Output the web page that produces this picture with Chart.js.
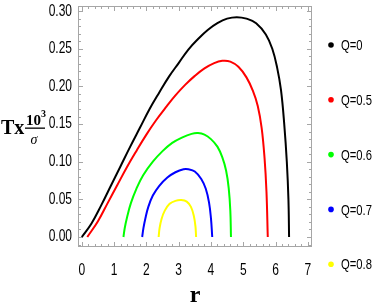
<!DOCTYPE html>
<html>
<head>
<meta charset="utf-8">
<script src="https://cdn.jsdelivr.net/npm/chart.js@4.4.1/dist/chart.umd.min.js"></script>
<style>
  html, body { margin: 0; padding: 0; background: #fff; }
  #wrap { width: 374px; height: 305px; }
</style>
</head>
<body>
<div id="wrap"><canvas id="c" width="374" height="305"></canvas></div>
<script>
const seriesLabels = ['Q=0', 'Q=0.5', 'Q=0.6', 'Q=0.7', 'Q=0.8'];
const seriesColors = ['#000000', '#ff0000', '#00ff00', '#0000ff', '#ffff00'];

// r and T x 10^3/sigma
const rQ0 = [0, 0.3, 0.6, 0.9, 1.2, 1.5, 1.8, 2.1, 2.4, 2.7, 3.0, 3.3, 3.6, 3.9, 4.2, 4.5, 4.8, 5.1, 5.4, 5.7, 5.9, 6.05, 6.17, 6.27, 6.35, 6.4, 6.42];
const tQ0 = [0, 0.018, 0.042, 0.068, 0.094, 0.120, 0.145, 0.170, 0.192, 0.213, 0.231, 0.249, 0.263, 0.275, 0.284, 0.290, 0.292, 0.290, 0.284, 0.269, 0.250, 0.225, 0.195, 0.150, 0.100, 0.050, 0];

const rQ05 = [0.17, 0.5, 0.8, 1.1, 1.4, 1.7, 2.0, 2.3, 2.6, 2.9, 3.2, 3.5, 3.8, 4.1, 4.35, 4.6, 4.85, 5.1, 5.3, 5.45, 5.57, 5.66, 5.72, 5.76];
const tQ05 = [0, 0.021, 0.045, 0.069, 0.093, 0.115, 0.136, 0.155, 0.172, 0.188, 0.202, 0.214, 0.224, 0.231, 0.234, 0.233, 0.226, 0.212, 0.194, 0.174, 0.145, 0.105, 0.060, 0];

const rQ06 = [1.29, 1.33, 1.4, 1.52, 1.69, 1.9, 2.2, 2.5, 2.8, 3.1, 3.4, 3.6, 3.8, 4.0, 4.2, 4.35, 4.47, 4.55, 4.6, 4.62];
const tQ06 = [0, 0.012, 0.026, 0.045, 0.064, 0.082, 0.100, 0.114, 0.125, 0.132, 0.137, 0.138, 0.136, 0.130, 0.120, 0.106, 0.088, 0.065, 0.035, 0];

const rQ07 = [1.87, 1.91, 1.97, 2.06, 2.2, 2.4, 2.65, 2.9, 3.15, 3.3, 3.5, 3.7, 3.84, 3.94, 4.0, 4.04];
const tQ07 = [0, 0.012, 0.025, 0.040, 0.055, 0.068, 0.079, 0.086, 0.090, 0.090, 0.087, 0.077, 0.064, 0.046, 0.025, 0];

const rQ08 = [2.38, 2.41, 2.47, 2.57, 2.72, 2.9, 3.08, 3.25, 3.38, 3.47, 3.52, 3.54];
const tQ08 = [0, 0.012, 0.024, 0.035, 0.044, 0.048, 0.049, 0.047, 0.040, 0.028, 0.014, 0];

const xTicks = [0, 1, 2, 3, 4, 5, 6, 7];
const yTicks = [0, 0.05, 0.10, 0.15, 0.20, 0.25, 0.30];

const rSets = [rQ0, rQ05, rQ06, rQ07, rQ08];
const tSets = [tQ0, tQ05, tQ06, tQ07, tQ08];

const sansFont = "'Liberation Sans', Arial, sans-serif";
const serifFont = "'Liberation Serif', 'DejaVu Serif', serif";

const datasets = seriesLabels.map((lab, i) => ({
    label: lab,
    data: rSets[i].map((r, j) => ({ x: r, y: tSets[i][j] })),
    borderColor: seriesColors[i],
    backgroundColor: seriesColors[i],
    borderWidth: 2,
    pointRadius: 0,
    tension: 0.4,
    fill: false
}));

// narrow text like the original's condensed font
function narrowText(ctx, text, x, y, size, align) {
    const sx = 0.75;
    ctx.save();
    ctx.font = size + 'px ' + sansFont;
    ctx.textAlign = align;
    ctx.textBaseline = 'middle';
    ctx.translate(x, y);
    ctx.scale(sx, 1);
    ctx.fillText(text, 0, 0);
    ctx.restore();
}

// frame with inward major/minor ticks, like the original
const framePlugin = {
    id: 'frame',
    beforeDatasetsDraw(chart) {
        const { ctx, chartArea: a, scales: { x, y } } = chart;
        ctx.save();
        ctx.strokeStyle = '#a6a6a6';
        ctx.lineWidth = 1;
        ctx.strokeRect(a.left + 0.5, a.top + 0.5, a.right - a.left - 1, a.bottom - a.top - 1);
        ctx.beginPath();
        for (let k = 0; k <= 35; k++) {
            const px = Math.round(x.getPixelForValue(k / 5)) + 0.5;
            const len = k % 5 === 0 ? 5 : 3;
            ctx.moveTo(px, a.bottom); ctx.lineTo(px, a.bottom - len);
            ctx.moveTo(px, a.top); ctx.lineTo(px, a.top + len);
        }
        for (let k = -1; k <= 30; k++) {
            const py = Math.round(y.getPixelForValue(k / 100)) + 0.5;
            const len = k % 5 === 0 ? 5 : 3;
            ctx.moveTo(a.left, py); ctx.lineTo(a.left + len, py);
            ctx.moveTo(a.right, py); ctx.lineTo(a.right - len, py);
        }
        ctx.stroke();
        ctx.restore();
    }
};

// tick labels, axis titles and legend
const textPlugin = {
    id: 'texts',
    afterDraw(chart) {
        const { ctx, chartArea: a, scales: { x, y } } = chart;
        ctx.save();
        ctx.fillStyle = '#000';

        xTicks.forEach(v => narrowText(ctx, String(v), x.getPixelForValue(v), 271, 16, 'center'));
        yTicks.forEach(v => narrowText(ctx, v.toFixed(2), 72, y.getPixelForValue(v), 16, 'right'));

        // y title: Tx 10^3 / sigma
        ctx.textBaseline = 'alphabetic';
        ctx.font = 'bold 20px ' + serifFont;
        ctx.textAlign = 'left';
        ctx.fillText('Tx', 1, 134);
        ctx.font = 'bold 15px ' + serifFont;
        ctx.fillText('10', 26, 125);
        ctx.font = 'bold 10px ' + serifFont;
        ctx.fillText('3', 41, 117);
        ctx.fillRect(25, 127.5, 20, 1.3);
        ctx.font = 'italic 14px ' + serifFont;
        ctx.textAlign = 'center';
        ctx.fillText('\u03c3', 34, 144);

        // x title
        ctx.font = 'bold 24px ' + serifFont;
        ctx.fillText('r', (a.left + a.right) / 2, 302);

        // legend
        seriesLabels.forEach((lab, i) => {
            const cy = 45 + i * 54.8;
            ctx.fillStyle = seriesColors[i];
            ctx.beginPath();
            ctx.arc(331, cy, 2.8, 0, Math.PI * 2);
            ctx.fill();
            ctx.fillStyle = '#000';
            narrowText(ctx, lab, 341, cy + 1, 15, 'left');
        });
        ctx.restore();
    }
};

new Chart(document.getElementById('c'), {
    type: 'line',
    data: { datasets: datasets },
    options: {
        responsive: false,
        animation: false,
        layout: { padding: { top: 6, right: 62, left: 0, bottom: 0 } },
        plugins: {
            legend: { display: false },
            tooltip: { enabled: false }
        },
        scales: {
            x: {
                type: 'linear',
                min: -0.118,
                max: 7.13,
                afterBuildTicks: s => { s.ticks = xTicks.map(v => ({ value: v })); },
                afterFit: s => { s.height = 58; },
                grid: { display: false },
                border: { display: false },
                ticks: { display: false }
            },
            y: {
                type: 'linear',
                min: -0.0133,
                max: 0.3068,
                afterBuildTicks: s => { s.ticks = yTicks.map(v => ({ value: v })); },
                afterFit: s => { s.width = 78; },
                grid: { display: false },
                border: { display: false },
                ticks: { display: false }
            }
        }
    },
    plugins: [framePlugin, textPlugin]
});
</script>
</body>
</html>
